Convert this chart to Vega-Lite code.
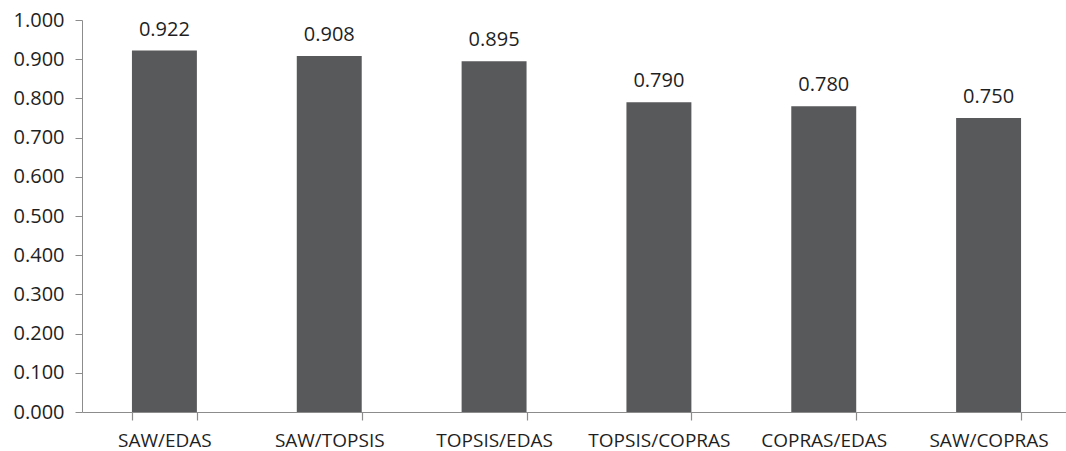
{
  "$schema": "https://vega.github.io/schema/vega-lite/v6.json",
  "autosize": "none",
  "padding": {"left": 82, "top": 20, "right": 0, "bottom": 39},
  "width": 989,
  "height": 392,
  "background": "white",
  "config": {"view": {"stroke": null}, "font": "Open Sans"},
  "data": {"values": [
    {"pair": "SAW/EDAS", "value": 0.922},
    {"pair": "SAW/TOPSIS", "value": 0.908},
    {"pair": "TOPSIS/EDAS", "value": 0.895},
    {"pair": "TOPSIS/COPRAS", "value": 0.790},
    {"pair": "COPRAS/EDAS", "value": 0.780},
    {"pair": "SAW/COPRAS", "value": 0.750}
  ]},
  "encoding": {
    "x": {"field": "pair", "type": "nominal", "sort": null,
      "scale": {"paddingInner": 0.606, "paddingOuter": 0.303},
      "axis": {"title": null, "labelAngle": 0, "labelFont": "Open Sans", "labelFontSize": 19, "labelColor": "#1f1f1f",
        "domainColor": "#8c8c8c", "tickColor": "#8c8c8c", "tickWidth": 1.2, "tickBand": "extent", "tickSize": 8, "labelPadding": 11, "grid": false}},
    "y": {"field": "value", "type": "quantitative",
      "scale": {"domain": [0, 1], "nice": false},
      "axis": {"title": null, "format": ".3f", "values": [0, 0.1, 0.2, 0.3, 0.4, 0.5, 0.6, 0.7, 0.8, 0.9, 1.0],
        "labelFont": "Open Sans", "labelFontSize": 20, "labelColor": "#1f1f1f", "labelPadding": 11,
        "domainColor": "#8c8c8c", "tickColor": "#8c8c8c", "tickSize": 7, "grid": false}}
  },
  "layer": [
    {"mark": {"type": "bar", "color": "#58595b"}},
    {"mark": {"type": "text", "baseline": "bottom", "dy": -11, "fontSize": 20, "color": "#1f1f1f", "font": "Open Sans"},
     "encoding": {"text": {"field": "value", "type": "quantitative", "format": ".3f"}}}
  ]
}
